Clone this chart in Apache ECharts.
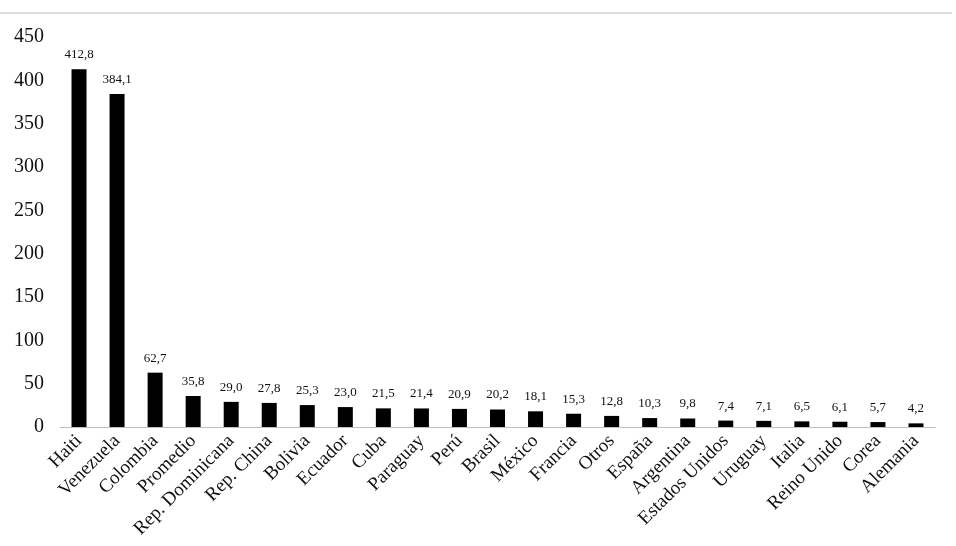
<!DOCTYPE html>
<html><head><meta charset="utf-8">
<script src="https://cdn.jsdelivr.net/npm/echarts@6/dist/echarts.min.js"></script>
<style>html,body{margin:0;padding:0;background:#fff}#c{width:956px;height:546px}</style>
</head><body><div id="c"></div>
<script>
const categories = ["Haiti","Venezuela","Colombia","Promedio","Rep. Dominicana","Rep. China","Bolivia","Ecuador","Cuba","Paraguay","Perú","Brasil","México","Francia","Otros","España","Argentina","Estados Unidos","Uruguay","Italia","Reino Unido","Corea","Alemania"];
const values = [412.8,384.1,62.7,35.8,29.0,27.8,25.3,23.0,21.5,21.4,20.9,20.2,18.1,15.3,12.8,10.3,9.8,7.4,7.1,6.5,6.1,5.7,4.2];
const yTicks = [0,50,100,150,200,250,300,350,400,450];
const font = "'Liberation Serif', 'Times New Roman', serif";
const chart = echarts.init(document.getElementById('c'));
chart.setOption({
  animation:false,
  graphic:[{type:'rect',shape:{x:0,y:12,width:952,height:2},style:{fill:'#dddddd'},silent:true}],
  grid:{left:60,right:21,top:37,bottom:119,containLabel:false},
  xAxis:{type:'category',data:categories,
    axisLine:{lineStyle:{color:'#bfbfbf',width:1}},axisTick:{show:false},
    axisLabel:{rotate:45,interval:0,margin:11,fontFamily:font,fontSize:19,color:'#111'}},
  yAxis:{type:'value',min:yTicks[0],max:yTicks[yTicks.length-1],interval:50,
    axisLine:{show:false},axisTick:{show:false},splitLine:{show:false},
    axisLabel:{margin:16,fontFamily:font,fontSize:20,color:'#111'}},
  series:[{type:'bar',data:values,barWidth:15,itemStyle:{color:'#000'},
    label:{show:true,position:'top',distance:8,fontFamily:font,fontSize:13,color:'#111',
      formatter:p=>p.value.toFixed(1).replace('.',',')}}]
});
</script></body></html>
